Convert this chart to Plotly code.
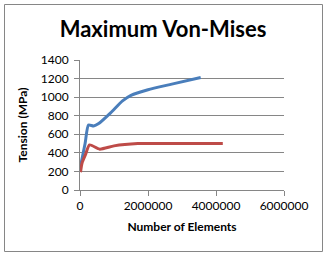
import plotly.graph_objects as go

# Data
blue_x = [20000, 150000, 250000, 400000, 550000, 900000, 1250000, 1500000, 2000000, 2700000, 3550000]
blue_y = [265, 500, 700, 690, 715, 830, 960, 1020, 1080, 1140, 1212]
red_x = [15000, 60000, 160000, 280000, 580000, 1000000, 1700000, 2500000, 4200000]
red_y = [192, 290, 380, 485, 440, 475, 500, 502, 502]

x_ticks = [0, 2000000, 4000000, 6000000]
y_ticks = [0, 200, 400, 600, 800, 1000, 1200, 1400]

W, H = 327, 256
L, R, T, B = 80, 43, 60, 66
pw, ph = W - L - R, H - T - B

def px(x):
    return (x - L) / pw

def py(y):
    return (H - B - y) / ph

fig = go.Figure()
fig.add_trace(go.Scatter(x=blue_x, y=blue_y, mode="lines", line=dict(color="#4A7EBB", width=3, shape="spline", smoothing=0.6), showlegend=False, hoverinfo="skip"))
fig.add_trace(go.Scatter(x=red_x, y=red_y, mode="lines", line=dict(color="#BE4B48", width=3, shape="spline", smoothing=0.6), showlegend=False, hoverinfo="skip"))

font_family = "Lato, Open Sans, sans-serif"
fig.update_layout(
    width=W, height=H,
    margin=dict(l=L, r=R, t=T, b=B, autoexpand=False),
    paper_bgcolor="white", plot_bgcolor="white",
    font=dict(family=font_family, color="black", size=10),
    title=dict(text="<b>Maximum Von-Mises</b>", x=163 / W, xanchor="center", y=1 - 29 / H, yanchor="middle",
               font=dict(size=22, family=font_family, color="black")),
    xaxis=dict(range=[0, 6000000], tickvals=x_ticks, ticktext=[str(v) for v in x_ticks],
               showgrid=False, zeroline=False, showline=True, linecolor="#868686", linewidth=1,
               ticks="outside", ticklen=5, tickcolor="#868686", automargin=False,
               title=dict(text="<b>Number of Elements</b>", font=dict(size=12), standoff=10),
               tickfont=dict(size=12)),
    yaxis=dict(range=[0, 1400], tickvals=y_ticks, ticktext=[str(v) for v in y_ticks],
               showgrid=True, gridcolor="#868686", gridwidth=1, zeroline=False,
               showline=True, linecolor="#868686", linewidth=1,
               ticks="outside", ticklen=5, tickcolor="#868686", automargin=False,
               ticklabelstandoff=3,
               title=dict(text="<b>Tension (MPa)</b>", font=dict(size=12), standoff=10),
               tickfont=dict(size=12)),
    shapes=[dict(type="rect", xref="paper", yref="paper",
                 x0=px(4.5), x1=px(322.5), y0=py(251.5), y1=py(4.5),
                 line=dict(color="#868686", width=1), fillcolor="rgba(0,0,0,0)", layer="below")],
)

fig.write_html("out.html", config={"displayModeBar": False},
               post_script="document.body.style.margin='0';document.body.style.overflow='hidden';")
